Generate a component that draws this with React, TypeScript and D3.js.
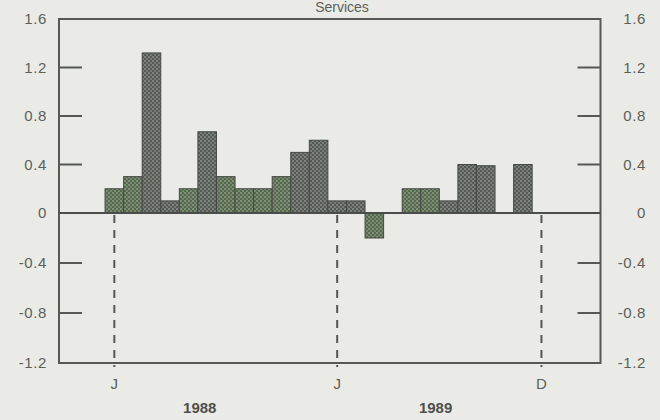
import React from "react";
import * as d3 from "d3";

// Monthly values, Jan 1988 .. Dec 1989
const months: string[] = [
  "1988-01","1988-02","1988-03","1988-04","1988-05","1988-06","1988-07","1988-08","1988-09","1988-10","1988-11","1988-12",
  "1989-01","1989-02","1989-03","1989-04","1989-05","1989-06","1989-07","1989-08","1989-09","1989-10","1989-11","1989-12",
];
const values: number[] = [
  0.2, 0.3, 1.32, 0.1, 0.2, 0.67, 0.3, 0.2, 0.2, 0.3, 0.5, 0.6,
  0.1, 0.1, -0.2, 0, 0.2, 0.2, 0.1, 0.4, 0.39, 0, 0.4, 0,
];
const yTicks: number[] = [1.6, 1.2, 0.8, 0.4, 0, -0.4, -0.8, -1.2];
const monthMarks: { idx: number; label: string }[] = [
  { idx: 0, label: "J" },
  { idx: 12, label: "J" },
  { idx: 23, label: "D" },
];
const yearLabels: { pos: number; label: string }[] = [
  { pos: 5.1, label: "1988" },
  { pos: 17.8, label: "1989" },
];
const title = "Services";

const W = 660;
const H = 420;
const L = 59;
const R = 600.5;
const T = 19;
const B = 363;

export default function App() {
  const x = d3.scaleLinear().domain([-2.48, 26.68]).range([L, R]);
  const y = d3.scaleLinear().domain([-1.2, 0, 1.6]).range([B, 213, T]);
  const fmt = (v: number) => (v === 0 ? "0" : d3.format(".1f")(v).replace("\u2212", "-"));
  const axisColor = "#555853";
  const textColor = "#5c5e5a";
  const innerTicks = yTicks.filter((t) => t !== 0 && t !== 1.6 && t !== -1.2);

  return (
    <svg
      width={W}
      height={H}
      style={{ position: "absolute", left: 0, top: 0 }}
      fontFamily="'Liberation Sans', Arial, sans-serif"
    >
      <defs>
        <pattern id="stipGray" width="4" height="4" patternUnits="userSpaceOnUse">
          <rect width="4" height="4" fill="#555954" />
          <circle cx="1" cy="1" r="0.7" fill="#cdd0c8" />
          <circle cx="3" cy="3" r="0.7" fill="#b8bbb3" />
        </pattern>
        <pattern id="stipGreen" width="4" height="4" patternUnits="userSpaceOnUse">
          <rect width="4" height="4" fill="#56694f" />
          <circle cx="1" cy="1" r="0.7" fill="#ccd6c4" />
          <circle cx="3" cy="3" r="0.7" fill="#b2bfaa" />
        </pattern>
      </defs>
      <rect x={0} y={0} width={W} height={H} fill="#eaebe6" />

      <text x={342} y={12} textAnchor="middle" fontSize={14} fill={textColor}>
        {title}
      </text>

      {/* bars */}
      {values.map((v, i) => {
        if (v === 0) return null;
        const x0 = x(i);
        const x1 = x(i + 1);
        const y0 = y(Math.max(0, v));
        const y1 = y(Math.min(0, v));
        const a = Math.abs(v);
        const green = a >= 0.15 && a <= 0.3;
        return (
          <rect
            key={months[i]}
            x={x0}
            y={y0}
            width={x1 - x0}
            height={y1 - y0}
            fill={green ? "url(#stipGreen)" : "url(#stipGray)"}
            stroke="#454944"
            strokeWidth={1}
          />
        );
      })}

      {/* dashed month markers */}
      {monthMarks.map((m) => (
        <line
          key={"d" + m.idx}
          x1={x(m.idx + 0.5)}
          x2={x(m.idx + 0.5)}
          y1={y(0) + 2}
          y2={B + 4}
          stroke={axisColor}
          strokeWidth={2}
          strokeDasharray="8,7"
        />
      ))}

      {/* frame */}
      <rect x={L} y={T} width={R - L} height={B - T} fill="none" stroke={axisColor} strokeWidth={2} />
      <line x1={L} x2={R} y1={y(0)} y2={y(0)} stroke="#4a4d49" strokeWidth={2} />

      {/* inner ticks */}
      {innerTicks.map((t) => (
        <g key={"t" + t}>
          <line x1={L} x2={L + 23} y1={y(t)} y2={y(t)} stroke={axisColor} strokeWidth={2} />
          <line x1={R - 23} x2={R} y1={y(t)} y2={y(t)} stroke={axisColor} strokeWidth={2} />
        </g>
      ))}

      {/* tick labels */}
      {yTicks.map((t) => (
        <g key={"l" + t} fontSize={15} fill={textColor} letterSpacing={0.6}>
          <text x={47} y={y(t)} dy="0.36em" textAnchor="end">
            {fmt(t)}
          </text>
          <text x={646} y={y(t)} dy="0.36em" textAnchor="end">
            {fmt(t)}
          </text>
        </g>
      ))}

      {/* month labels */}
      {monthMarks.map((m) => (
        <text key={"m" + m.idx} x={x(m.idx + 0.5)} y={389} textAnchor="middle" fontSize={15} fill={textColor}>
          {m.label}
        </text>
      ))}

      {/* year labels */}
      {yearLabels.map((yl) => (
        <text
          key={yl.label}
          x={x(yl.pos)}
          y={413}
          textAnchor="middle"
          fontSize={15}
          fontWeight="bold"
          fill="#4e504c"
        >
          {yl.label}
        </text>
      ))}
    </svg>
  );
}
